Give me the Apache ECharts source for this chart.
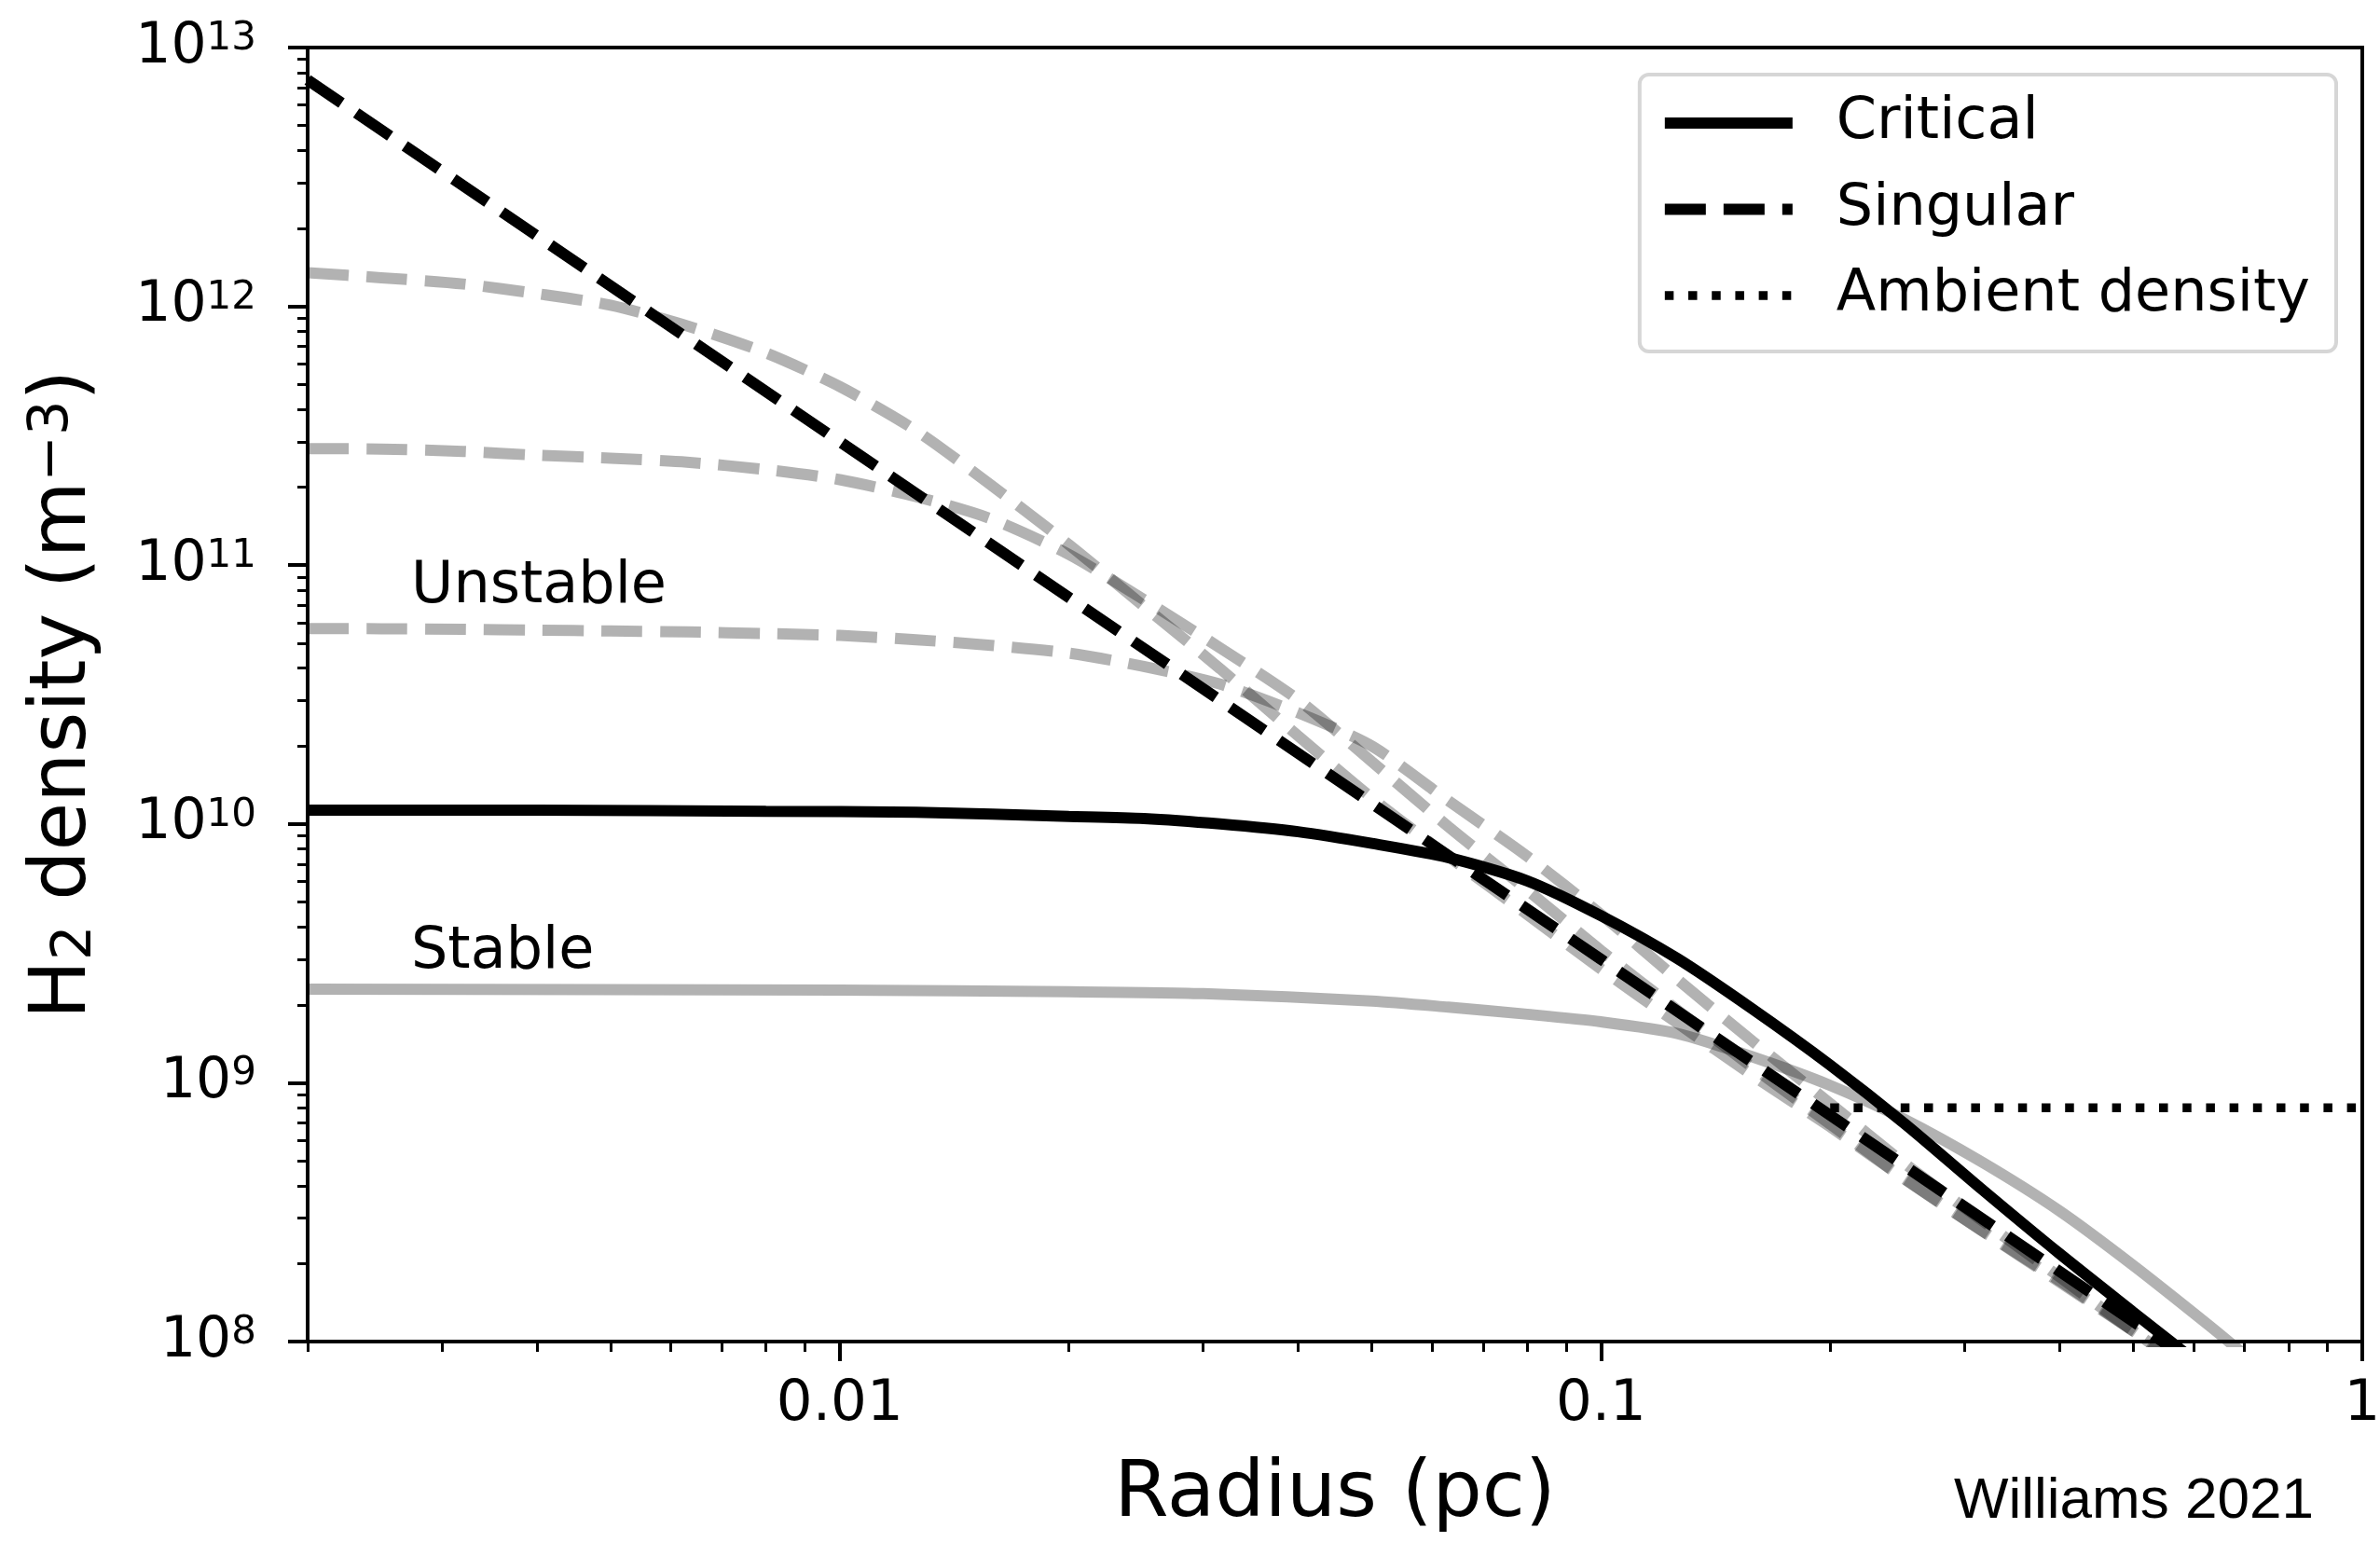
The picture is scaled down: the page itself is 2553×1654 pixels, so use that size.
<!DOCTYPE html>
<html>
<head>
<meta charset="utf-8">
<script src="https://cdn.jsdelivr.net/npm/echarts@6/dist/echarts.min.js"></script>
<style>
html, body { margin: 0; padding: 0; background: #ffffff; }
#chart { width: 2553px; height: 1654px; }
</style>
</head>
<body>
<div id="chart"></div>
<script>
// ---------------- data (radius in pc, H2 density in m^-3) ----------------
const grayRadius = [0.002, 0.0025, 0.0032, 0.004, 0.005, 0.0063, 0.008, 0.01, 0.0126, 0.0158,
  0.02, 0.025, 0.0316, 0.04, 0.05, 0.063, 0.08, 0.1, 0.126, 0.158, 0.2, 0.25, 0.316, 0.4, 0.5, 0.56];
const unstableA = [1.35e12, 1.29e12, 1.22e12, 1.12e12, 1.01e12, 8.41e11, 6.61e11, 4.90e11, 3.31e11, 2.04e11,
  1.20e11, 7.0e10, 3.98e10, 2.19e10, 1.26e10, 7.50e9, 4.47e9, 2.75e9, 1.70e9, 1.07e9, 6.76e8, 4.27e8, 2.69e8, 1.72e8, 1.10e8, 8.7e7];
const unstableB = [2.82e11, 2.81e11, 2.75e11, 2.66e11, 2.59e11, 2.50e11, 2.34e11, 2.14e11, 1.84e11, 1.51e11,
  1.10e11, 7.41e10, 4.79e10, 3.02e10, 1.74e10, 9.77e9, 5.56e9, 3.24e9, 1.91e9, 1.15e9, 6.92e8, 4.27e8, 2.69e8, 1.70e8, 1.10e8, 8.7e7];
const unstableC = [5.69e10, 5.68e10, 5.65e10, 5.61e10, 5.57e10, 5.52e10, 5.44e10, 5.35e10, 5.15e10, 4.90e10,
  4.57e10, 4.07e10, 3.47e10, 2.69e10, 2.00e10, 1.23e10, 7.50e9, 4.47e9, 2.51e9, 1.45e9, 8.32e8, 4.90e8, 2.95e8, 1.78e8, 1.10e8, 8.7e7];

const stableRadius = [0.002, 0.005, 0.01, 0.02, 0.03, 0.05, 0.063, 0.08, 0.1, 0.126, 0.158, 0.2, 0.25, 0.316, 0.4, 0.5, 0.63, 0.7];
const stableDensity = [2.30e9, 2.29e9, 2.28e9, 2.25e9, 2.21e9, 2.07e9, 1.96e9, 1.84e9, 1.72e9, 1.55e9, 1.26e9, 9.77e8, 7.24e8, 4.95e8, 3.20e8, 1.97e8, 1.15e8, 8.9e7];

const criticalRadius = [0.002, 0.004, 0.008, 0.0126, 0.02, 0.0251, 0.0316, 0.04, 0.05, 0.063, 0.08, 0.1, 0.126, 0.158, 0.2, 0.251, 0.316, 0.4, 0.5, 0.56, 0.63];
const criticalDensity = [1.13e10, 1.13e10, 1.12e10, 1.11e10, 1.07e10, 1.05e10, 1.0e10, 9.33e9, 8.41e9, 7.41e9, 6.03e9, 4.42e9, 3.02e9, 1.93e9, 1.17e9, 6.92e8, 3.89e8, 2.19e8, 1.30e8, 1.0e8, 7.6e7];

const singularRadius = [0.002, 0.01, 0.1, 0.6];
const singularDensity = [7.5e12, 3.0e11, 3.0e9, 8.3e7];

const ambientRadius = [0.2, 1];
const ambientDensity = [8.0e8, 8.0e8];

const legendNames = ['Critical', 'Singular', 'Ambient density'];

// ---------------- axes / ticks ----------------
const xMin = 0.002, xMax = 1, yMin = 1e8, yMax = 1e13;
const xMajorTicks = [0.01, 0.1, 1];
const xTickLabels = ['0.01', '0.1', '1'];
const yMajorExponents = [8, 9, 10, 11, 12, 13];

const L = Math.log10;
const xMinorTicks = [];
[0.001, 0.01, 0.1].forEach(d => { for (let k = 2; k <= 9; k++) { const v = k * d; if (v >= xMin - 1e-12 && v <= xMax) xMinorTicks.push(L(v)); } });
const yMinorTicks = [];
[8, 9, 10, 11, 12].forEach(e => { for (let k = 2; k <= 9; k++) yMinorTicks.push(e + L(k)); });

const pair = (rs, vs) => rs.map((r, i) => [r, vs[i]]);
const FONT = 'DejaVu Sans';

const grayDash = { color: 'rgba(0,0,0,0.3)', width: 12, type: [44, 19], cap: 'butt' };

function lineSeries(name, data, lineStyle, extra) {
  return Object.assign({
    name: name, type: 'line', xAxisIndex: 0, yAxisIndex: 0,
    data: data, symbol: 'none', showSymbol: false, silent: true,
    smooth: 0.25,
    itemStyle: { color: 'rgba(0,0,0,0)' },
    lineStyle: lineStyle, clip: true
  }, extra || {});
}

const chart = echarts.init(document.getElementById('chart'), null, { renderer: 'canvas' });

const option = {
  animation: false,
  backgroundColor: '#ffffff',
  grid: {
    left: 330, top: 51, width: 2204, height: 1388,
    show: true, borderColor: '#000', borderWidth: 4, backgroundColor: 'transparent',
    containLabel: false, outerBoundsMode: 'none'
  },
  legend: {
    data: legendNames,
    orient: 'vertical', right: 47, top: 80,
    itemWidth: 137, itemHeight: 14, itemGap: 30.5,
    padding: [21, 28, 29, 21],
    backgroundColor: '#ffffff', borderColor: '#d6d6d6', borderWidth: 4, borderRadius: 10,
    selectedMode: false,
    itemStyle: { color: 'rgba(0,0,0,0)', borderWidth: 0 },
    lineStyle: { width: 'inherit', type: 'inherit', color: 'inherit', cap: 'butt' },
    textStyle: { fontFamily: FONT, fontSize: 62, lineHeight: 62, color: '#000', padding: [0, 0, 0, 42] }
  },
  xAxis: [
    { type: 'log', logBase: 10, min: xMin, max: xMax, show: false, gridIndex: 0 },
    {
      type: 'value', min: L(xMin), max: L(xMax), position: 'bottom', gridIndex: 0,
      axisLine: { show: true, onZero: false, lineStyle: { color: '#000', width: 4 } },
      axisTick: { show: true, inside: false, customValues: xMajorTicks.map(L), length: 21, lineStyle: { color: '#000', width: 4 } },
      axisLabel: {
        show: true, customValues: xMajorTicks.map(L), margin: 38,
        fontFamily: FONT, fontSize: 61, lineHeight: 61, color: '#000',
        formatter: v => { const i = xMajorTicks.findIndex(t => Math.abs(L(t) - v) < 1e-6); return i >= 0 ? xTickLabels[i] : ''; }
      },
      splitLine: { show: false },
      name: 'Radius (pc)', nameLocation: 'middle', nameGap: 123,
      nameTextStyle: { fontFamily: FONT, fontSize: 84, lineHeight: 84, color: '#000' }
    },
    {
      type: 'value', min: L(xMin), max: L(xMax), position: 'bottom', gridIndex: 0,
      axisLine: { show: false, onZero: false },
      axisTick: { show: true, inside: false, customValues: xMinorTicks, length: 11, lineStyle: { color: '#000', width: 3 } },
      axisLabel: { show: false },
      splitLine: { show: false }
    }
  ],
  yAxis: [
    { type: 'log', logBase: 10, min: yMin, max: yMax, show: false, gridIndex: 0 },
    {
      type: 'value', min: L(yMin), max: L(yMax), position: 'left', gridIndex: 0,
      axisLine: { show: true, onZero: false, lineStyle: { color: '#000', width: 4 } },
      axisTick: { show: true, inside: false, customValues: yMajorExponents, length: 21, lineStyle: { color: '#000', width: 4 } },
      axisLabel: {
        show: true, customValues: yMajorExponents, margin: 55, color: '#000',
        formatter: v => '{b|10}{s|' + Math.round(v) + '}',
        rich: {
          b: { fontFamily: FONT, fontSize: 60, lineHeight: 60, color: '#000' },
          s: { fontFamily: FONT, fontSize: 42, lineHeight: 20, verticalAlign: 'top', color: '#000' }
        }
      },
      splitLine: { show: false },
      name: '{n|H}{sub|2}{n| density (m}{sup|\u22123}{n|)}', nameLocation: 'middle', nameGap: 219,
      nameTextStyle: {
        color: '#000',
        rich: {
          n: { fontFamily: FONT, fontSize: 84, lineHeight: 84, color: '#000' },
          sub: { fontFamily: FONT, fontSize: 59, lineHeight: 39, verticalAlign: 'bottom', color: '#000' },
          sup: { fontFamily: FONT, fontSize: 59, lineHeight: 29, verticalAlign: 'top', color: '#000' }
        }
      }
    },
    {
      type: 'value', min: L(yMin), max: L(yMax), position: 'left', gridIndex: 0,
      axisLine: { show: false, onZero: false },
      axisTick: { show: true, inside: false, customValues: yMinorTicks, length: 11, lineStyle: { color: '#000', width: 3 } },
      axisLabel: { show: false },
      splitLine: { show: false }
    }
  ],
  series: [
    lineSeries('Unstable 1', pair(grayRadius, unstableA), grayDash),
    lineSeries('Unstable 2', pair(grayRadius, unstableB), grayDash),
    lineSeries('Unstable 3', pair(grayRadius, unstableC), grayDash),
    lineSeries('Stable', pair(stableRadius, stableDensity), { color: 'rgba(0,0,0,0.3)', width: 12, type: 'solid' }),
    lineSeries('Critical', pair(criticalRadius, criticalDensity), { color: '#000', width: 12, type: 'solid' }),
    lineSeries('Singular', pair(singularRadius, singularDensity), { color: '#000', width: 12, type: [44, 19], cap: 'butt' }, { smooth: false }),
    lineSeries('Ambient density', pair(ambientRadius, ambientDensity), { color: '#000', width: 9.5, type: [9.5, 15.7], cap: 'butt' }, { smooth: false })
  ],
  graphic: [
    { type: 'text', x: 441, y: 630, silent: true,
      style: { text: 'Unstable', fontFamily: FONT, fontSize: 62, fill: '#000', align: 'left', verticalAlign: 'middle' } },
    { type: 'text', x: 441, y: 1022, silent: true,
      style: { text: 'Stable', fontFamily: FONT, fontSize: 62, fill: '#000', align: 'left', verticalAlign: 'middle' } },
    { type: 'text', x: 2096, y: 1611, silent: true,
      style: { text: 'Williams 2021', fontFamily: 'Liberation Sans', fontSize: 62, fill: '#000', align: 'left', verticalAlign: 'middle' } }
  ]
};

chart.setOption(option);
</script>
</body>
</html>
